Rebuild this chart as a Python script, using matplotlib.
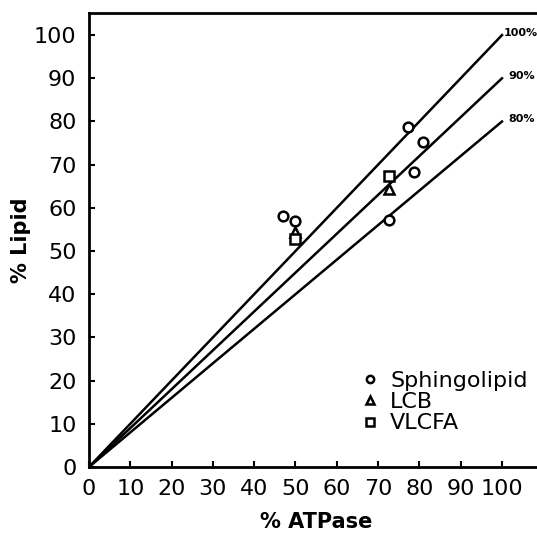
import matplotlib.pyplot as plt
import numpy as np

# percent ATPase vs percent lipid
sphingo_x = [47, 50, 72.6, 77.3, 78.8, 80.8]
sphingo_y = [58.2, 57.0, 57.2, 78.8, 68.2, 75.2]
lcb_x = [50, 72.6]
lcb_y = [54.3, 64.4]
vlcfa_x = [50, 72.6]
vlcfa_y = [52.8, 67.4]

ref_slopes = [1.0, 0.9, 0.8]
ref_labels = ['100%', '90%', '80%']

plt.rcParams['font.family'] = ['DejaVu Sans']
plt.rcParams['font.size'] = 16

fig = plt.figure(figsize=(5.37, 5.34), dpi=100)
ax = fig.add_axes([0.1657, 0.1255, 0.846, 0.850])

xs = np.array([0, 100])
for k, lab in zip(ref_slopes, ref_labels):
    ax.plot(xs, k * xs, color='black', lw=1.8)
    ax.text(100.3 if k == 1.0 else 101.6, k * 100 + 0.6, lab, fontsize=8,
            fontweight='bold', ha='left', va='center')

mk = dict(ls='none', mfc='white', mec='black', mew=1.8, clip_on=False)
ax.plot(sphingo_x, sphingo_y, marker='o', ms=7, label='Sphingolipid', **mk)
ax.plot(lcb_x, lcb_y, marker='^', ms=7, label='LCB', **mk)
ax.plot(vlcfa_x, vlcfa_y, marker='s', ms=7, label='VLCFA', **mk)

leg = ax.legend(loc='lower right', bbox_to_anchor=(1.01, 0.03), frameon=False,
                handlelength=0.6, handletextpad=0.6, labelspacing=0.05,
                markerscale=0.75, fontsize=16)

ax.set_xlim(0, 110)
ax.set_ylim(0, 105.1)
ax.set_xticks(range(0, 101, 10))
ax.set_yticks(range(0, 101, 10))
ax.tick_params(direction='in', length=4, width=1.5, pad=9, labelsize=16)
for s in ax.spines.values():
    s.set_linewidth(2)

ax.set_xlabel('% ATPase', fontsize=15, fontweight='bold', labelpad=9)
ax.set_ylabel('% Lipid', fontsize=15, fontweight='bold', labelpad=2)

fig.savefig('out.png', dpi=100)
